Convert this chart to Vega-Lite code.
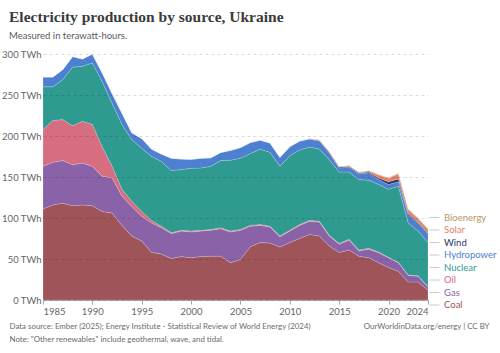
{
  "$schema": "https://vega.github.io/schema/vega-lite/v6.json",
  "width": 385,
  "height": 246,
  "autosize": {"type": "none"},
  "padding": {"left": 43, "top": 54, "right": 72, "bottom": 53},
  "background": "#ffffff",
  "title": {
    "text": "Electricity production by source, Ukraine",
    "subtitle": "Measured in terawatt-hours.",
    "anchor": "start",
    "frame": "group",
    "dx": -34,
    "offset": 9,
    "font": "Liberation Serif",
    "fontSize": 15.5,
    "fontWeight": "bold",
    "color": "#3b3b3b",
    "subtitleFont": "Lato",
    "subtitleFontSize": 9.5,
    "subtitleColor": "#5b5b5b",
    "subtitlePadding": 5
  },
  "datasets": {
    "ukraine": [
      {"year": 1985, "Coal": 111, "Gas": 52, "Oil": 45, "Nuclear": 52, "Hydropower": 12, "Wind": 0, "Solar": 0, "Bioenergy": 0},
      {"year": 1986, "Coal": 116, "Gas": 52, "Oil": 51, "Nuclear": 41, "Hydropower": 12, "Wind": 0, "Solar": 0, "Bioenergy": 0},
      {"year": 1987, "Coal": 118, "Gas": 52, "Oil": 50, "Nuclear": 48.5, "Hydropower": 12.5, "Wind": 0, "Solar": 0, "Bioenergy": 0},
      {"year": 1988, "Coal": 115, "Gas": 50, "Oil": 47.5, "Nuclear": 71.5, "Hydropower": 13, "Wind": 0, "Solar": 0, "Bioenergy": 0},
      {"year": 1989, "Coal": 116, "Gas": 51, "Oil": 51, "Nuclear": 67, "Hydropower": 9, "Wind": 0, "Solar": 0, "Bioenergy": 0},
      {"year": 1990, "Coal": 115, "Gas": 48, "Oil": 51, "Nuclear": 75, "Hydropower": 11, "Wind": 0, "Solar": 0, "Bioenergy": 0},
      {"year": 1991, "Coal": 108, "Gas": 43, "Oil": 36, "Nuclear": 79, "Hydropower": 11, "Wind": 0, "Solar": 0, "Bioenergy": 0},
      {"year": 1992, "Coal": 106, "Gas": 43, "Oil": 14, "Nuclear": 77, "Hydropower": 12, "Wind": 0, "Solar": 0, "Bioenergy": 0},
      {"year": 1993, "Coal": 91, "Gas": 35.5, "Oil": 8.5, "Nuclear": 79, "Hydropower": 14, "Wind": 0, "Solar": 0, "Bioenergy": 0},
      {"year": 1994, "Coal": 78, "Gas": 36, "Oil": 6.5, "Nuclear": 75, "Hydropower": 8.5, "Wind": 0, "Solar": 0, "Bioenergy": 0},
      {"year": 1995, "Coal": 72, "Gas": 30, "Oil": 6, "Nuclear": 77, "Hydropower": 12, "Wind": 0, "Solar": 0, "Bioenergy": 0},
      {"year": 1996, "Coal": 58, "Gas": 36, "Oil": 3, "Nuclear": 78, "Hydropower": 9, "Wind": 0, "Solar": 0, "Bioenergy": 0},
      {"year": 1997, "Coal": 56, "Gas": 32, "Oil": 2, "Nuclear": 79, "Hydropower": 9, "Wind": 0, "Solar": 0, "Bioenergy": 0},
      {"year": 1998, "Coal": 50.5, "Gas": 30.5, "Oil": 1, "Nuclear": 76, "Hydropower": 15, "Wind": 0, "Solar": 0, "Bioenergy": 0},
      {"year": 1999, "Coal": 53, "Gas": 31, "Oil": 1, "Nuclear": 74, "Hydropower": 13, "Wind": 0, "Solar": 0, "Bioenergy": 0},
      {"year": 2000, "Coal": 51.5, "Gas": 31.5, "Oil": 1, "Nuclear": 76.6, "Hydropower": 11, "Wind": 0, "Solar": 0, "Bioenergy": 0},
      {"year": 2001, "Coal": 53, "Gas": 31, "Oil": 1, "Nuclear": 76, "Hydropower": 12, "Wind": 0, "Solar": 0, "Bioenergy": 0},
      {"year": 2002, "Coal": 53.5, "Gas": 31.5, "Oil": 1, "Nuclear": 77, "Hydropower": 10.5, "Wind": 0, "Solar": 0, "Bioenergy": 0},
      {"year": 2003, "Coal": 53.5, "Gas": 33.5, "Oil": 1, "Nuclear": 82, "Hydropower": 10, "Wind": 0, "Solar": 0, "Bioenergy": 0},
      {"year": 2004, "Coal": 45.5, "Gas": 37.5, "Oil": 1, "Nuclear": 86.5, "Hydropower": 12, "Wind": 0, "Solar": 0, "Bioenergy": 0},
      {"year": 2005, "Coal": 49.5, "Gas": 35.5, "Oil": 1, "Nuclear": 87, "Hydropower": 13, "Wind": 0, "Solar": 0, "Bioenergy": 0},
      {"year": 2006, "Coal": 65, "Gas": 25, "Oil": 1, "Nuclear": 87.5, "Hydropower": 13.5, "Wind": 0, "Solar": 0, "Bioenergy": 0},
      {"year": 2007, "Coal": 70, "Gas": 21, "Oil": 1, "Nuclear": 92, "Hydropower": 11, "Wind": 0, "Solar": 0, "Bioenergy": 0},
      {"year": 2008, "Coal": 69.5, "Gas": 19.5, "Oil": 1, "Nuclear": 90, "Hydropower": 11.5, "Wind": 0, "Solar": 0, "Bioenergy": 0},
      {"year": 2009, "Coal": 64.5, "Gas": 12.5, "Oil": 1, "Nuclear": 85, "Hydropower": 11, "Wind": 0, "Solar": 0, "Bioenergy": 0},
      {"year": 2010, "Coal": 70, "Gas": 14, "Oil": 1, "Nuclear": 91, "Hydropower": 10.9, "Wind": 0.05, "Solar": 0, "Bioenergy": 0.1},
      {"year": 2011, "Coal": 75, "Gas": 16, "Oil": 1, "Nuclear": 91, "Hydropower": 10.8, "Wind": 0.1, "Solar": 0.03, "Bioenergy": 0.1},
      {"year": 2012, "Coal": 80, "Gas": 16, "Oil": 1, "Nuclear": 89.6, "Hydropower": 9.6, "Wind": 0.3, "Solar": 0.3, "Bioenergy": 0.2},
      {"year": 2013, "Coal": 78, "Gas": 17, "Oil": 1, "Nuclear": 88, "Hydropower": 10, "Wind": 0.6, "Solar": 0.6, "Bioenergy": 0.3},
      {"year": 2014, "Coal": 66, "Gas": 12, "Oil": 1, "Nuclear": 92, "Hydropower": 8.1, "Wind": 1.1, "Solar": 0.5, "Bioenergy": 0.3},
      {"year": 2015, "Coal": 58, "Gas": 10, "Oil": 1, "Nuclear": 87, "Hydropower": 5, "Wind": 1.1, "Solar": 0.5, "Bioenergy": 0.3},
      {"year": 2016, "Coal": 61, "Gas": 12, "Oil": 1, "Nuclear": 82, "Hydropower": 6, "Wind": 1.0, "Solar": 0.5, "Bioenergy": 0.4},
      {"year": 2017, "Coal": 53.5, "Gas": 6.5, "Oil": 1, "Nuclear": 86, "Hydropower": 6.9, "Wind": 1.0, "Solar": 0.7, "Bioenergy": 0.4},
      {"year": 2018, "Coal": 51.5, "Gas": 10.5, "Oil": 1, "Nuclear": 83, "Hydropower": 9, "Wind": 1.2, "Solar": 1.3, "Bioenergy": 0.5},
      {"year": 2019, "Coal": 45.5, "Gas": 12.2, "Oil": 0.8, "Nuclear": 82.5, "Hydropower": 5.8, "Wind": 1.9, "Solar": 3.8, "Bioenergy": 0.6},
      {"year": 2020, "Coal": 39.5, "Gas": 12, "Oil": 0.5, "Nuclear": 83, "Hydropower": 5.8, "Wind": 3.3, "Solar": 4.3, "Bioenergy": 0.6},
      {"year": 2021, "Coal": 35, "Gas": 10.5, "Oil": 0.5, "Nuclear": 92.7, "Hydropower": 5.5, "Wind": 3.3, "Solar": 6.3, "Bioenergy": 0.7},
      {"year": 2022, "Coal": 22, "Gas": 8, "Oil": 0.5, "Nuclear": 63.5, "Hydropower": 9.9, "Wind": 1.8, "Solar": 4.5, "Bioenergy": 0.8},
      {"year": 2023, "Coal": 22, "Gas": 7, "Oil": 0.5, "Nuclear": 54.5, "Hydropower": 9.9, "Wind": 0.8, "Solar": 4.5, "Bioenergy": 0.8},
      {"year": 2024, "Coal": 12, "Gas": 4, "Oil": 0.5, "Nuclear": 53.5, "Hydropower": 10.7, "Wind": 1.0, "Solar": 4.5, "Bioenergy": 0.8}
    ],
    "sources": [
      {"source": "Coal", "rank": 1},
      {"source": "Gas", "rank": 2},
      {"source": "Oil", "rank": 3},
      {"source": "Nuclear", "rank": 4},
      {"source": "Hydropower", "rank": 5},
      {"source": "Wind", "rank": 6},
      {"source": "Solar", "rank": 7},
      {"source": "Bioenergy", "rank": 8}
    ]
  },
  "data": {"name": "ukraine"},
  "transform": [
    {"fold": ["Coal", "Gas", "Oil", "Nuclear", "Hydropower", "Wind", "Solar", "Bioenergy"], "as": ["source", "twh"]},
    {"lookup": "source", "from": {"data": {"name": "sources"}, "key": "source", "fields": ["rank"]}}
  ],
  "mark": {"type": "area", "stroke": "#ffffff", "strokeWidth": 0.5, "strokeOpacity": 0.35, "interpolate": "linear"},
  "encoding": {
    "x": {
      "field": "year",
      "type": "quantitative",
      "scale": {"domain": [1985, 2024], "nice": false, "zero": false},
      "axis": {
        "values": [1985, 1990, 1995, 2000, 2005, 2010, 2015, 2020, 2024],
        "format": "d",
        "labelFlush": true,
        "grid": false,
        "domain": true,
        "domainColor": "#a6a6a6",
        "ticks": true,
        "tickColor": "#a6a6a6",
        "tickSize": 4,
        "labelColor": "#666666",
        "labelFont": "Lato",
        "labelFontSize": 9.5,
        "labelPadding": 2,
        "title": ["Data source: Ember (2025); Energy Institute - Statistical Review of World Energy (2024)", "Note: \"Other renewables\" include geothermal, wave, and tidal."],
        "titleFont": "Lato",
        "titleFontSize": 7.9,
        "titleFontWeight": "normal",
        "titleColor": "#6b6b6b",
        "titleAnchor": "start",
        "titleAlign": "left",
        "titleBaseline": "middle",
        "titleLineHeight": 13.5,
        "titleX": -34,
        "titleY": 26
      }
    },
    "y": {
      "field": "twh",
      "type": "quantitative",
      "stack": "zero",
      "scale": {"domain": [0, 300], "nice": false},
      "axis": {
        "values": [0, 50, 100, 150, 200, 250, 300],
        "labelExpr": "datum.value + ' TWh'",
        "domain": false,
        "ticks": false,
        "grid": true,
        "gridColor": "#000000",
        "gridOpacity": 0.14,
        "gridDash": [3, 3],
        "zindex": 1,
        "labelColor": "#666666",
        "labelFont": "Lato",
        "labelFontSize": 9.5,
        "labelPadding": 2,
        "title": "OurWorldinData.org/energy | CC BY",
        "titleAngle": 0,
        "titleFont": "Lato",
        "titleFontSize": 7.9,
        "titleFontWeight": "normal",
        "titleColor": "#6b6b6b",
        "titleAlign": "right",
        "titleBaseline": "middle",
        "titleX": 446,
        "titleY": 272
      }
    },
    "order": {"field": "rank", "type": "quantitative", "sort": "ascending"},
    "color": {
      "field": "source",
      "type": "nominal",
      "sort": ["Bioenergy", "Solar", "Wind", "Hydropower", "Nuclear", "Oil", "Gas", "Coal"],
      "scale": {
        "domain": ["Bioenergy", "Solar", "Wind", "Hydropower", "Nuclear", "Oil", "Gas", "Coal"],
        "range": ["#b8966b", "#e57f68", "#283766", "#4d80d0", "#2f9a8f", "#d66d80", "#8a62a8", "#9f5459"]
      },
      "legend": {
        "orient": "none",
        "legendX": 386,
        "legendY": 158,
        "title": null,
        "symbolType": "stroke",
        "symbolSize": 100,
        "symbolStrokeWidth": 1,
        "symbolStrokeColor": "#c8c8c8",
        "labelFont": "Lato",
        "labelFontSize": 9.5,
        "labelOffset": 4,
        "rowPadding": 2.5,
        "encode": {
          "symbols": {"update": {"stroke": {"value": "#c8c8c8"}, "fill": {"value": "transparent"}}},
          "labels": {"update": {"fill": {"scale": "color", "field": "value"}}}
        }
      }
    }
  },
  "config": {"view": {"stroke": null}}
}
